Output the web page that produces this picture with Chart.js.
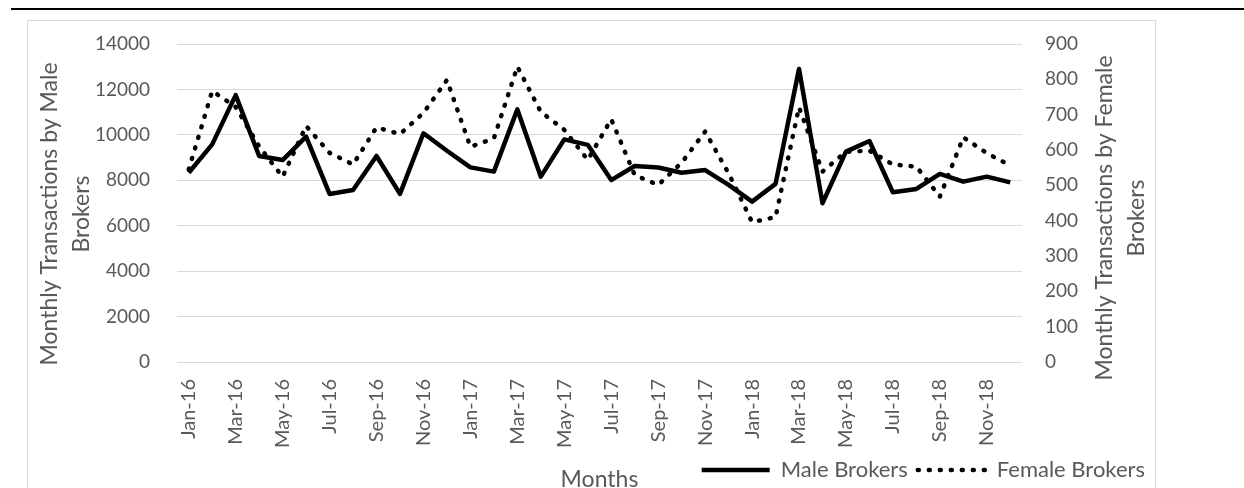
<!DOCTYPE html>
<html>
<head>
<meta charset="utf-8">
<script src="https://cdn.jsdelivr.net/npm/chart.js@4/dist/chart.umd.min.js"></script>
<style>
  html, body { margin: 0; padding: 0; background: #fff; overflow: hidden; }
  body { width: 1244px; height: 488px; position: relative; }
  #topRule { position: absolute; left: 11px; top: 8px; width: 1233px; height: 2px; background: #000; }
  #frame { position: absolute; left: 27px; top: 20px; width: 1127px; height: 500px; border: 1px solid #d9d9d9; }
  #wrap { position: absolute; left: 0; top: 0; width: 1244px; height: 500px; }
</style>
</head>
<body>
<div id="topRule"></div>
<div id="frame"></div>
<div id="wrap"><canvas id="brokerChart" width="1244" height="500"></canvas></div>
<script>
// monthly transactions, Jan-16 .. Dec-18
const months = [
  "Jan-16", "Feb-16", "Mar-16", "Apr-16", "May-16", "Jun-16", "Jul-16", "Aug-16", "Sep-16", "Oct-16", "Nov-16", "Dec-16",
  "Jan-17", "Feb-17", "Mar-17", "Apr-17", "May-17", "Jun-17", "Jul-17", "Aug-17", "Sep-17", "Oct-17", "Nov-17", "Dec-17",
  "Jan-18", "Feb-18", "Mar-18", "Apr-18", "May-18", "Jun-18", "Jul-18", "Aug-18", "Sep-18", "Oct-18", "Nov-18", "Dec-18",
];
const maleBrokers = [
  8330, 9580, 11750, 9070, 8890, 9920, 7400, 7570, 9070, 7400, 10070, 9300,
  8570, 8380, 11120, 8160, 9800, 9560, 8010, 8630, 8560, 8330, 8450, 7800,
  7060, 7840, 12900, 6990, 9260, 9730, 7470, 7620, 8280, 7940, 8160, 7910,
];
const femaleBrokers = [
  545, 767, 722, 610, 524, 668, 592, 559, 664, 645, 705, 798,
  609, 633, 836, 708, 657, 572, 687, 529, 501, 564, 652, 534,
  396, 410, 721, 539, 595, 598, 559, 553, 468, 636, 591, 556,
];
const leftTitle = ["Monthly Transactions by Male", "Brokers"];
const rightTitle = ["Monthly Transactions by Female", "Brokers"];
const xTitle = "Months";

const FONT = "Lato";
const GREY = "#595959";

// Excel-style axis titles (both read bottom-to-top)
const axisTitles = {
  id: "axisTitles",
  afterDraw(chart) {
    const ctx = chart.ctx;
    const area = chart.chartArea;
    ctx.save();
    ctx.fillStyle = GREY;
    ctx.font = `23px ${FONT}`;
    ctx.textAlign = "center";
    ctx.textBaseline = "middle";

    const drawVertical = (lines, x, y) => {
      lines.forEach((txt, i) => {
        ctx.save();
        ctx.translate(x + i * 32, y);
        ctx.rotate(-Math.PI / 2);
        ctx.fillText(txt, 0, 0);
        ctx.restore();
      });
    };
    drawVertical(leftTitle, area.left - 127, 214);
    drawVertical(rightTitle, area.right + 83, 218);

    ctx.fillText(xTitle, (area.left + area.right) / 2, 480);
    ctx.restore();
  },
};

// legend items keep the dataset dash pattern
function brokerLabels(chart) {
  const items = Chart.defaults.plugins.legend.labels.generateLabels(chart);
  items.forEach((item) => {
    const ds = chart.data.datasets[item.datasetIndex];
    item.lineDash = ds.borderDash || [];
    item.lineCap = ds.borderCapStyle || "butt";
    item.lineWidth = ds.borderWidth;
    item.strokeStyle = ds.borderColor;
  });
  return items;
}

new Chart(document.getElementById("brokerChart"), {
  type: "line",
  data: {
    labels: months,
    datasets: [
      {
        label: "Male Brokers",
        data: maleBrokers,
        yAxisID: "y",
        borderColor: "#000",
        backgroundColor: "#000",
        borderWidth: 4.5,
        borderJoinStyle: "round",
        pointRadius: 0,
        tension: 0,
      },
      {
        label: "Female Brokers",
        data: femaleBrokers,
        yAxisID: "y1",
        borderColor: "#000",
        backgroundColor: "#000",
        borderWidth: 4.5,
        borderDash: [1, 10],
        borderCapStyle: "round",
        pointRadius: 0,
        tension: 0,
      },
    ],
  },
  options: {
    responsive: false,
    animation: false,
    layout: { padding: { left: 28, top: 44, right: 89, bottom: 9 } },
    plugins: {
      legend: {
        position: "bottom",
        align: "end",
        labels: {
          usePointStyle: true,
          pointStyle: "line",
          pointStyleWidth: 68,
          padding: 10,
          color: GREY,
          font: { family: FONT, size: 22 },
          generateLabels: brokerLabels,
        },
      },
      tooltip: { enabled: false },
    },
    scales: {
      x: {
        offset: true,
        grid: { display: false },
        border: { display: false },
        ticks: {
          autoSkip: false,
          maxRotation: 90,
          minRotation: 90,
          padding: 9,
          color: GREY,
          font: { family: FONT, size: 20 },
          callback: function (value, index) {
            return index % 2 === 0 ? this.getLabelForValue(value) : "";
          },
        },
        afterFit: (scale) => { scale.height = 87; },
      },
      y: {
        position: "left",
        min: 0,
        max: 14000,
        ticks: {
          stepSize: 2000,
          padding: 27,
          color: GREY,
          font: { family: FONT, size: 19 },
          callback: (v) => String(v),
        },
        grid: { color: "#d9d9d9", lineWidth: 1, drawTicks: false },
        border: { display: false },
        afterFit: (scale) => { scale.width = 149; },
      },
      y1: {
        position: "right",
        min: 0,
        max: 900,
        ticks: {
          stepSize: 100,
          padding: 23,
          color: GREY,
          font: { family: FONT, size: 19 },
          callback: (v) => String(v),
        },
        grid: { drawOnChartArea: false, drawTicks: false },
        border: { display: false },
        afterFit: (scale) => { scale.width = 133; },
      },
    },
  },
  plugins: [axisTitles],
});
</script>
</body>
</html>
